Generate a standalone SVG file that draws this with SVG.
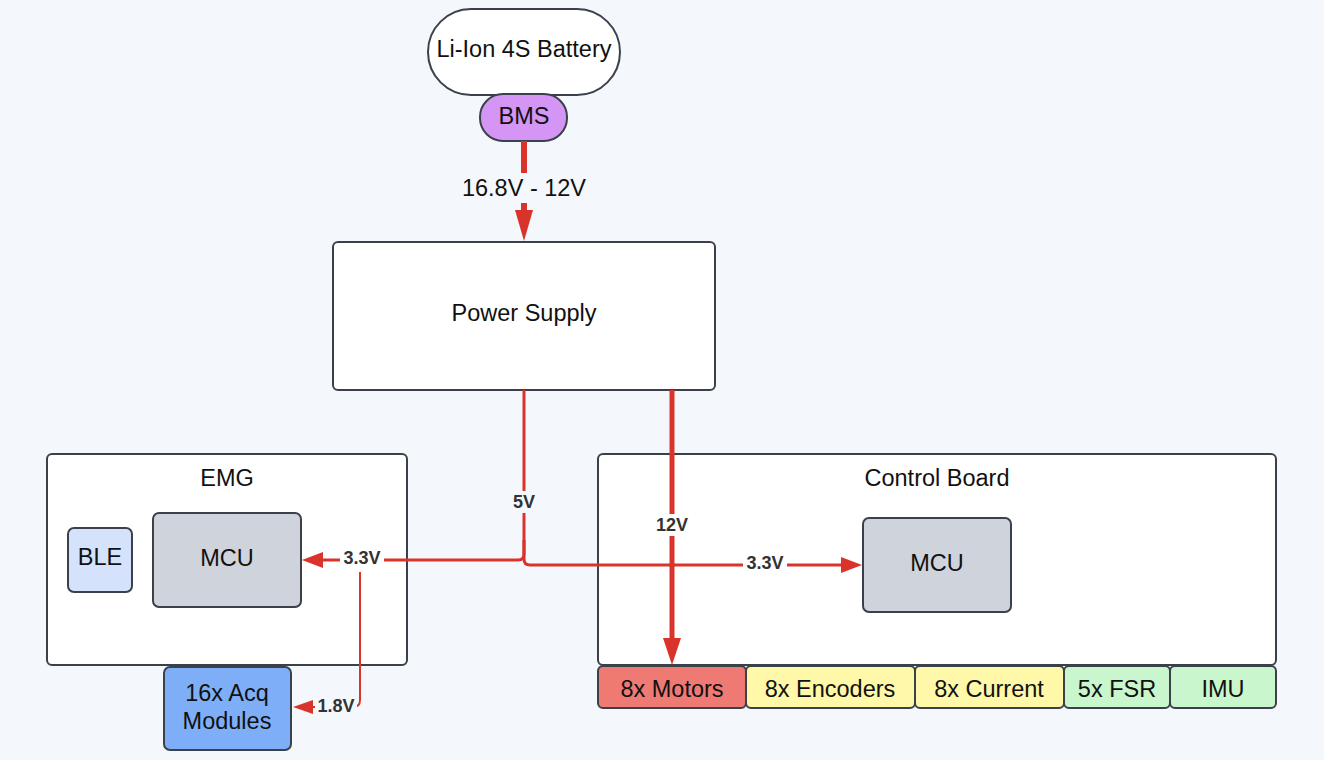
<svg xmlns="http://www.w3.org/2000/svg" width="1324" height="760" viewBox="0 0 1324 760">
<defs>
<style>
.box{stroke:#3a414a;stroke-width:2}
.t{font-family:"Liberation Sans",Arial,sans-serif;font-size:23.5px;fill:#111;text-anchor:middle;dominant-baseline:central}
.lbl{font-family:"Liberation Sans",Arial,sans-serif;font-size:18px;font-weight:bold;fill:#333;text-anchor:middle;dominant-baseline:central}
.w{fill:#f4f8fc}
.c{fill:none;stroke:#d9342b}
</style>
</defs>
<rect width="1324" height="760" fill="#f4f8fc"/>
<g id="emg"><rect class="box" x="47" y="454" width="360" height="211" rx="5" fill="#fff"/><text class="t" x="227" y="478">EMG</text></g>
<g id="control-board"><rect class="box" x="598" y="454" width="678" height="211" rx="5" fill="#fff"/><text class="t" x="937" y="478">Control Board</text></g>
<g id="battery"><rect class="box" x="428" y="9" width="192" height="86" rx="43" fill="#fff"/><text class="t" x="524" y="49">Li-Ion 4S Battery</text></g>
<g id="bms"><rect class="box" x="480" y="94" width="87" height="47" rx="23" fill="#d595f5"/><text class="t" x="524" y="116">BMS</text></g>
<g id="power-supply"><rect class="box" x="333" y="242" width="382" height="148" rx="5" fill="#fff"/><text class="t" x="524" y="313">Power Supply</text></g>
<g id="ble"><rect class="box" x="68" y="528" width="64" height="64" rx="6" fill="#d4e2fc"/><text class="t" x="100" y="557">BLE</text></g>
<g id="emg-mcu"><rect class="box" x="153" y="513" width="148" height="94" rx="6" fill="#cfd3db"/><text class="t" x="227" y="558">MCU</text></g>
<g id="acq"><rect class="box" x="164" y="667" width="127" height="83" rx="6" fill="#7eaef7"/><text class="t" x="227" y="693">16x Acq</text><text class="t" x="227" y="721">Modules</text></g>
<g id="cb-mcu"><rect class="box" x="863" y="518" width="148" height="94" rx="6" fill="#cfd3db"/><text class="t" x="937" y="563">MCU</text></g>
<g id="motors"><rect class="box" x="598" y="666" width="148" height="42" rx="5" fill="#ef7a74"/><text class="t" x="672" y="689">8x Motors</text></g>
<g id="encoders"><rect class="box" x="746" y="666" width="169" height="42" rx="5" fill="#fef8a8"/><text class="t" x="830" y="689">8x Encoders</text></g>
<g id="current"><rect class="box" x="915" y="666" width="149" height="42" rx="5" fill="#fef8a8"/><text class="t" x="989" y="689">8x Current</text></g>
<g id="fsr"><rect class="box" x="1064" y="666" width="106" height="42" rx="5" fill="#c9f6cc"/><text class="t" x="1117" y="689">5x FSR</text></g>
<g id="imu"><rect class="box" x="1170" y="666" width="106" height="42" rx="5" fill="#c9f6cc"/><text class="t" x="1223" y="689">IMU</text></g>
<g id="connectors">
<path class="c" stroke-width="6" d="M524,141V212"/>
<path d="M515,210L533,210L524,241z" fill="#d9342b"/>
<rect class="w" x="456" y="173" width="136" height="30"/>
<text class="t" x="524" y="188">16.8V - 12V</text>
<path class="c" stroke-width="3" d="M524,390V554Q524,560 518,560H322"/>
<path d="M323,552L323,568L302,560z" fill="#d9342b"/>
<path class="c" stroke-width="3" d="M524,540V559Q524,565 530,565H842"/>
<path d="M841,557L841,573L862,565z" fill="#d9342b"/>
<path class="c" stroke-width="5" d="M672,390V640"/>
<path d="M663,638L681,638L672,665z" fill="#d9342b"/>
<path class="c" stroke-width="2" d="M360,572V700Q360,707 353,707H312"/>
<path d="M313,700L313,714L293,707z" fill="#d9342b"/>
<rect fill="#f4f8fc" x="508" y="491" width="32" height="22"/>
<text class="lbl" x="524" y="502">5V</text>
<rect fill="#fff" x="650" y="514" width="44" height="22"/>
<text class="lbl" x="672" y="525">12V</text>
<rect fill="#fff" x="340" y="547" width="44" height="22"/>
<text class="lbl" x="362" y="558">3.3V</text>
<rect fill="#fff" x="743" y="552" width="44" height="22"/>
<text class="lbl" x="765" y="563">3.3V</text>
<rect fill="#f4f8fc" x="315" y="696" width="42" height="22"/>
<text class="lbl" x="336" y="706">1.8V</text>
</g>
</svg>
